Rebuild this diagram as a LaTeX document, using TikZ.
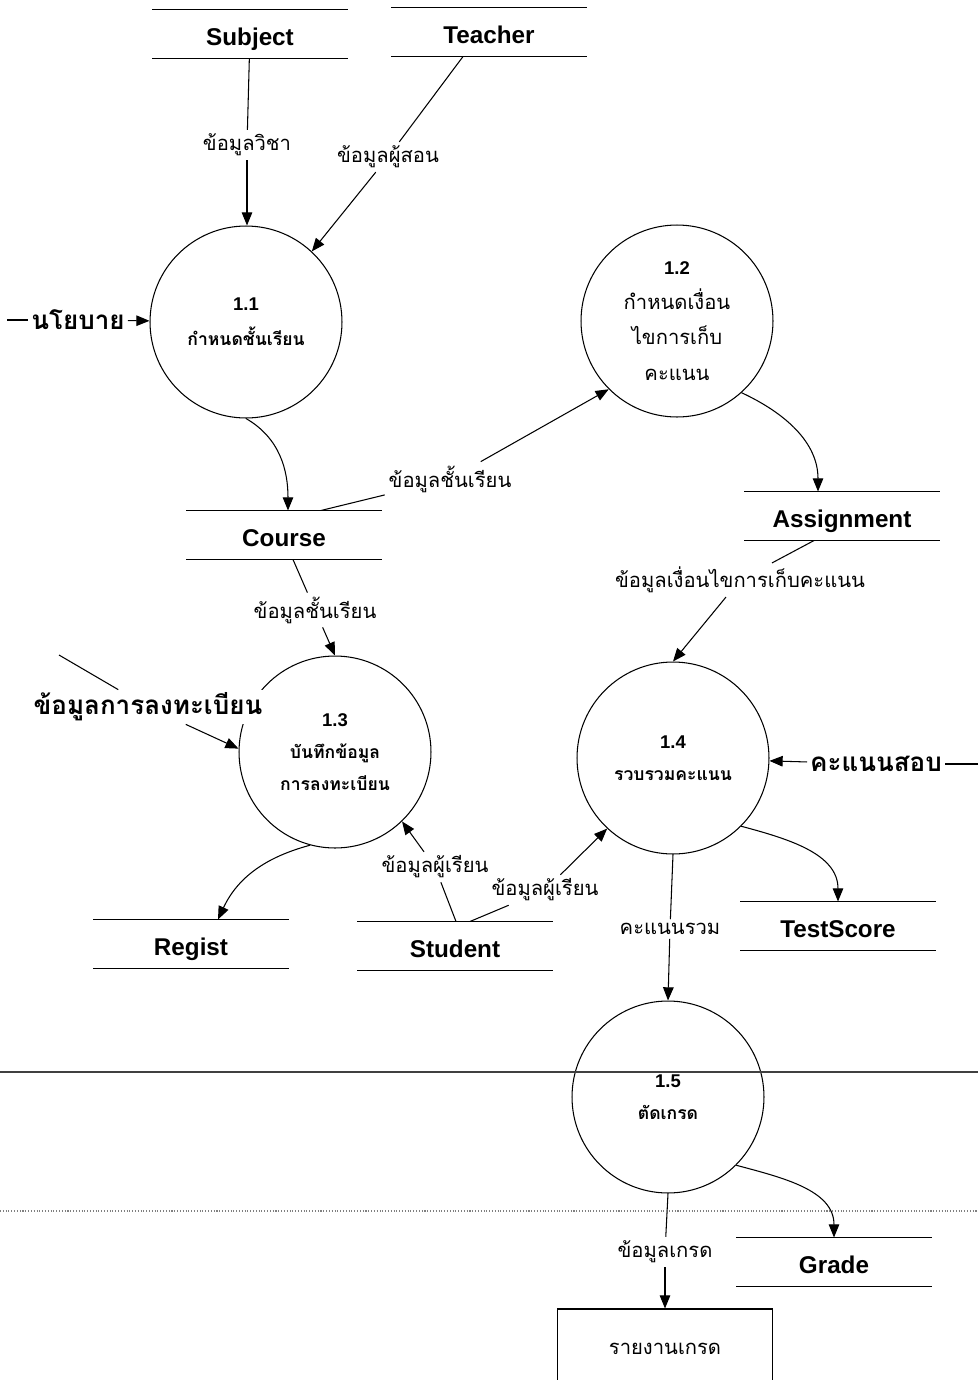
\documentclass[tikz,border=0pt]{standalone}
\usepackage{fontspec}
\setmainfont{Liberation Sans}
\newfontfamily\thai[Script=Thai]{Loma}
\usetikzlibrary{arrows.meta}
\newcommand{\pnum}[1]{{\normalfont\bfseries\fontsize{10.5}{12}\selectfont #1}}

\begin{document}
\begin{tikzpicture}[x=0.02cm, y=0.02cm, line width=0.6pt,
  >={Triangle[length=7.5pt,width=6pt]},
  proc/.style={circle, draw, minimum size=3.84cm, inner sep=0pt, align=center},
  procsm/.style={proc, font=\thai\bfseries\fontsize{10}{18}\selectfont},
  store/.style={minimum width=3.88cm, minimum height=0.96cm, inner sep=0pt, text height=13pt, text depth=0pt, font=\bfseries\fontsize{13.8}{16}\selectfont},
  flow/.style={font=\thai\fontsize{11.5}{13}\selectfont, inner sep=2pt},
  ext/.style={font=\thai\bfseries\fontsize{14.8}{17}\selectfont, inner sep=1.5pt, fill=white}]
\useasboundingbox (0,0) rectangle (978,-1380);

\node[store] (subject) at (250,-34) {Subject};
\node[store] (teacher) at (489,-32) {Teacher};
\node[store] (course) at (284,-535) {Course};
\node[store] (asg) at (842,-516) {Assignment};
\node[store] (regist) at (191,-944) {Regist};
\node[store] (student) at (455,-946) {Student};
\node[store] (ts) at (838,-926) {TestScore};
\node[store] (grade) at (834,-1262) {Grade};
\foreach \s in {subject,teacher,course,asg,regist,student,ts,grade}
  \draw (\s.north west) -- (\s.north east) (\s.south west) -- (\s.south east);

\node[procsm, font=\thai\bfseries\fontsize{10}{20}\selectfont] (p11) at (246,-322) {\pnum{1.1}\\กำหนดชั้นเรียน};
\node[proc, font=\thai\fontsize{11.5}{20}\selectfont] (p12) at (677,-321) {\pnum{1.2}\\กำหนดเงื่อน\\ไขการเก็บ\\คะแนน};
\node[procsm] (p13) at (335,-752) {\pnum{1.3}\\บันทึกข้อมูล\\การลงทะเบียน};
\node[procsm] (p14) at (673,-758) {\pnum{1.4}\\รวบรวมคะแนน};
\node[procsm] (p15) at (668,-1097) {\pnum{1.5}\\ตัดเกรด};
\node[draw, minimum width=4.3cm, minimum height=1.6cm, font=\thai\fontsize{11.5}{13}\selectfont] (report) at (665,-1349) {รายงานเกรด};

\node[flow] (l1) at (247,-145) {ข้อมูลวิชา};
\node[flow] (l2) at (388,-157) {ข้อมูลผู้สอน};
\node[flow] (l5) at (450,-479) {ข้อมูลชั้นเรียน};
\node[flow] (l7) at (740,-580) {ข้อมูลเงื่อนไขการเก็บคะแนน};
\node[flow] (l13) at (315,-610) {ข้อมูลชั้นเรียน};
\node[flow] (l14a) at (435,-867) {ข้อมูลผู้เรียน};
\node[flow] (l14b) at (545,-890) {ข้อมูลผู้เรียน};
\node[flow] (l10) at (670,-929) {คะแนนรวม};
\node[flow] (l12) at (665,-1252) {ข้อมูลเกรด};

\node[ext] (policy) at (78,-320) {นโยบาย};
\node[ext] (exam) at (876,-764) {คะแนนสอบ};
\node[ext] (reginfo) at (148,-707) {ข้อมูลการลงทะเบียน};

\coordinate (policyin) at (7,-320);
\coordinate (examin) at (978,-764);
\coordinate (regin) at (59,-655);
\coordinate (t1) at ([xshift=-0.52cm]teacher.south);
\coordinate (c1) at ([xshift=0.74cm]course.north);
\coordinate (c2) at ([xshift=0.18cm]course.south);
\coordinate (a1) at ([xshift=-0.56cm]asg.south);
\coordinate (s1) at ([xshift=0.02cm]student.north);
\coordinate (s2) at ([xshift=0.3cm]student.north);

\draw (subject) -- (l1);
\draw[->] (l1) -- (l1 |- p11.north);
\draw (t1) -- (l2);
\draw[->] (l2) -- (p11.47);
\draw (policyin) -- (policy);
\draw[->] (policy) -- (p11);
\draw[->] (p11.south) to[out=-30, in=90] ([xshift=0.08cm]course.north);
\draw (c1) -- (l5);
\draw[->] (l5) -- (p12.225);
\draw[->] (p12.-48) to[out=-25, in=90] ([xshift=-0.48cm]asg.north);
\draw (a1) -- (l7);
\draw[->] (l7) -- (p14.north);
\draw (examin) -- (exam);
\draw[->] (exam) -- (p14);
\draw[->] (p14.-45) to[out=-15, in=90] (ts.north);
\draw (p14.south) -- (l10);
\draw[->] (l10) -- (p15.north);
\draw[->] (p15.-45) to[out=-15, in=90] (grade.north);
\draw (p15.south) -- (l12);
\draw[->] (l12) -- (report.north);
\draw (c2) -- (l13);
\draw[->] (l13) -- (p13.north);
\draw (regin) -- (reginfo);
\draw[->] (reginfo) -- (p13.178);
\draw[->] (p13.255) to[out=195, in=65] ([xshift=0.54cm]regist.north);
\draw (s1) -- (l14a);
\draw[->] (l14a) -- (p13.-46);
\draw (s2) -- (l14b);
\draw[->] (l14b) -- (p14.227);

\draw[line width=1.2pt, black!75] (0,-1072) -- (978,-1072);
\draw[gray, densely dotted] (0,-1211) -- (978,-1211);
\end{tikzpicture}
\end{document}
